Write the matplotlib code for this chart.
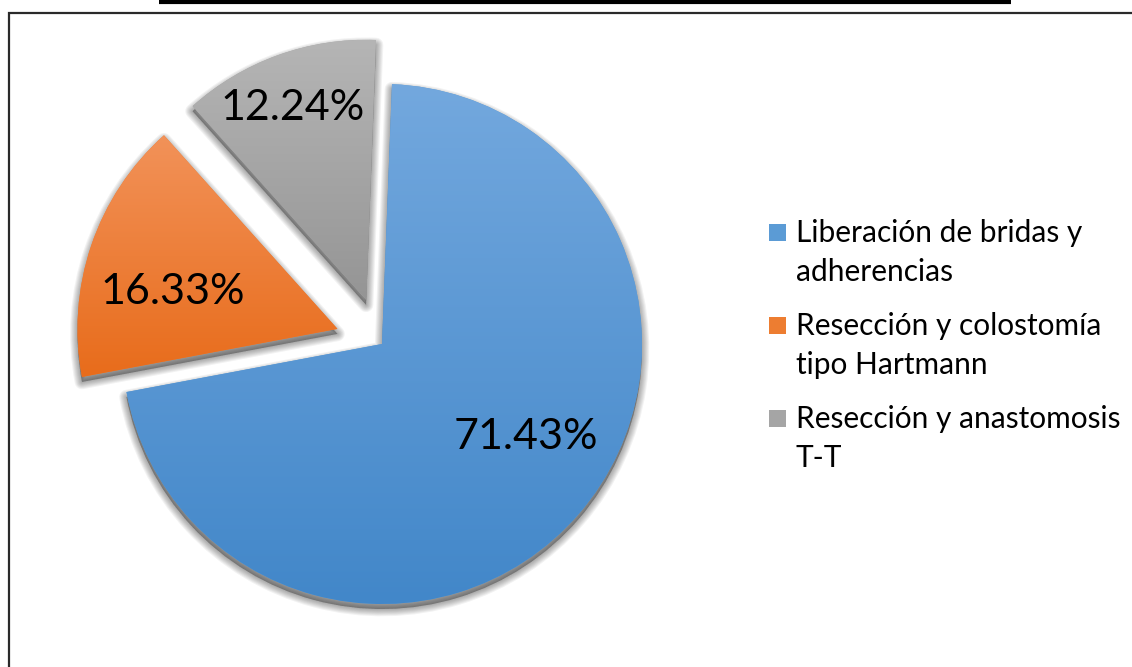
import matplotlib.pyplot as plt
import numpy as np
from matplotlib.colors import LinearSegmentedColormap
from matplotlib.patches import Wedge, Rectangle

# --- datos ---
categories = ["Liberación de bridas y\nadherencias",
              "Resección y colostomía\ntipo Hartmann",
              "Resección y anastomosis\nT-T"]
values = [71.43, 16.33, 12.24]

# colores del degradado (arriba / abajo) y color plano para la leyenda
top_colors = ["#73A8DE", "#F29259", "#B5B5B5"]
bottom_colors = ["#4287C9", "#E86C1B", "#959595"]
mid_colors = ["#5B9BD5", "#ED7D31", "#A5A5A5"]

# --- geometria (en pixeles) ---
W, H = 1132, 667
CX, CY, R = 382, H - 344, 260
EXPLODE = [0, 47, 47]
LABEL_DIST = [0.66, 0.65, 0.79]
LABEL_TURN = [8, 6, 1]

plt.rcParams["font.family"] = ["Lato", "DejaVu Sans"]

fig = plt.figure(figsize=(W / 100, H / 100), dpi=100)
ax = fig.add_axes([0, 0, 1, 1])

wedges, _ = ax.pie(values, startangle=87.8, counterclock=False,
                   explode=EXPLODE, radius=R, center=(CX, CY),
                   colors=mid_colors, wedgeprops=dict(linewidth=0))

grad = np.linspace(0, 1, 256).reshape(-1, 1)
for i, w in enumerate(wedges):
    w.set_zorder(2)
    # sombra difusa (hacia abajo)
    for k in range(7, 0, -1):
        ax.add_patch(Wedge((w.center[0], w.center[1] - 5), w.r,
                           w.theta1, w.theta2, facecolor="black",
                           edgecolor="black", linewidth=k * 1.5,
                           alpha=0.05, zorder=1, joinstyle="round"))
    # degradado vertical
    x0, y0, x1, y1 = w.get_path().get_extents().extents
    cmap = LinearSegmentedColormap.from_list(f"g{i}", [bottom_colors[i], top_colors[i]])
    im = ax.imshow(grad, extent=(x0, x1, y0, y1), origin="lower", cmap=cmap,
                   aspect="auto", zorder=3, interpolation="bicubic")
    im.set_clip_path(w)

    # etiqueta de porcentaje
    ang = np.deg2rad((w.theta1 + w.theta2) / 2 + LABEL_TURN[i])
    d = w.r * LABEL_DIST[i]
    ax.text(w.center[0] + d * np.cos(ang), w.center[1] + d * np.sin(ang),
            f"{values[i]:.2f}%", fontsize=31, ha="center", va="center",
            color="black", zorder=5)

# --- leyenda ---
LEG_X, LEG_Y0, LEG_STEP = 769, 232, 93
for i, lab in enumerate(categories):
    y = H - (LEG_Y0 + i * LEG_STEP)
    ax.add_patch(Rectangle((LEG_X, y - 8.5), 17, 17, facecolor=mid_colors[i],
                           linewidth=0, zorder=4))
    ax.text(LEG_X + 27, y + 13, lab, fontsize=21.5, ha="left", va="top",
            linespacing=1.47, color="black", zorder=5)

# marco y linea superior
ax.add_patch(Rectangle((9, -30), 1300, H - 13 + 30, fill=False,
                       linewidth=1.6, edgecolor="#2a2a2a", zorder=6))
ax.plot([159, 1011], [H - 2, H - 2], color="black", linewidth=3,
        solid_capstyle="butt", zorder=6)

ax.set_aspect("equal")
ax.set_xlim(0, W)
ax.set_ylim(0, H)
ax.axis("off")

fig.savefig("out.png", dpi=100)
